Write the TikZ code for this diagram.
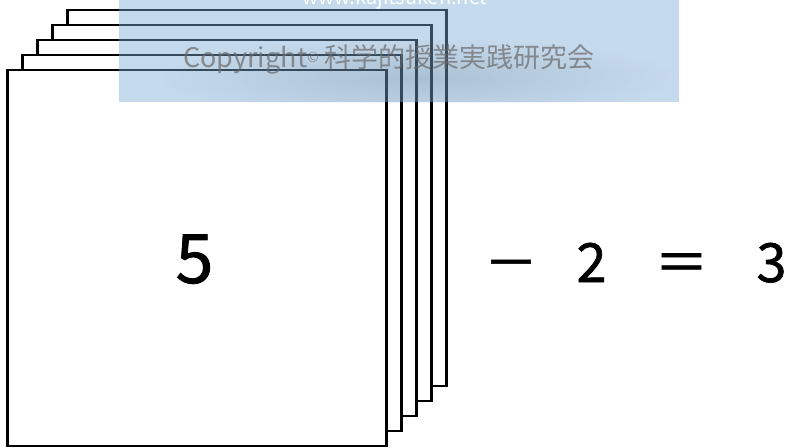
\documentclass[tikz,border=0pt]{standalone}
\usepackage{fontspec}
\usetikzlibrary{fadings}
\tikzfading[name=softspot, inner color=transparent!0, outer color=transparent!100]
\setmainfont{Noto Sans CJK JP}
\newfontfamily\digitfont[FakeBold=1.2]{Noto Sans CJK JP}
\definecolor{wmblue}{RGB}{125,170,215}
\definecolor{wmshade}{RGB}{60,80,100}
\definecolor{wmgray}{RGB}{105,105,105}
\tikzset{
  card/.style={draw=black, fill=white, line width=2.7pt, rectangle,
    minimum width=379pt, minimum height=376pt, inner sep=0pt, anchor=north west},
  bignum/.style={font=\digitfont\fontsize{68}{68}\selectfont, inner sep=0pt, anchor=base},
  eqtext/.style={font=\digitfont\fontsize{54}{54}\selectfont, inner sep=0pt, anchor=base},
  wmbox/.style={fill=wmblue, fill opacity=0.44, draw=none, inner sep=0pt,
    minimum width=560pt, minimum height=102pt, anchor=north west},
}
\begin{document}
\begin{tikzpicture}[x=1pt,y=-1pt]
\useasboundingbox (0,0) rectangle (791,447);
% cards, back to front
\node[card] (c4) at (66,8.5) {};
\node[card] (c3) at (51,23.5) {};
\node[card] (c2) at (36,38.5) {};
\node[card] (c1) at (21,53.5) {};
\node[card] (c0) at (6,68.5) {};
% numbers
\node[bignum] (n5) at (194.5,283) {5};
\node[eqtext] (minus) at (511,282) {－};
\node[eqtext] (two) at (591.5,282) {2};
\node[eqtext] (eq) at (681.5,282) {＝};
\node[eqtext] (three) at (771.5,282) {3};
% watermark
\node[wmbox] (wm) at (119,0) {};
\begin{scope}
\clip (wm.north west) rectangle (wm.south east);
\fill[wmshade, fill opacity=0.18, path fading=softspot] (420,78) ellipse [x radius=260, y radius=40];
\end{scope}
\node[anchor=base, text=white, font=\fontsize{20}{20}\selectfont, inner sep=0pt] (wmurl) at (395,5) {www.kajitsuken.net};
\node[anchor=base west, text=wmgray, text opacity=0.7, font=\fontsize{27}{27}\selectfont, inner sep=0pt] (wmtext) at (183,67)
  {Copyright\raisebox{5pt}{\fontsize{14}{14}\selectfont ©} 科学的授業実践研究会};
\end{tikzpicture}
\end{document}
